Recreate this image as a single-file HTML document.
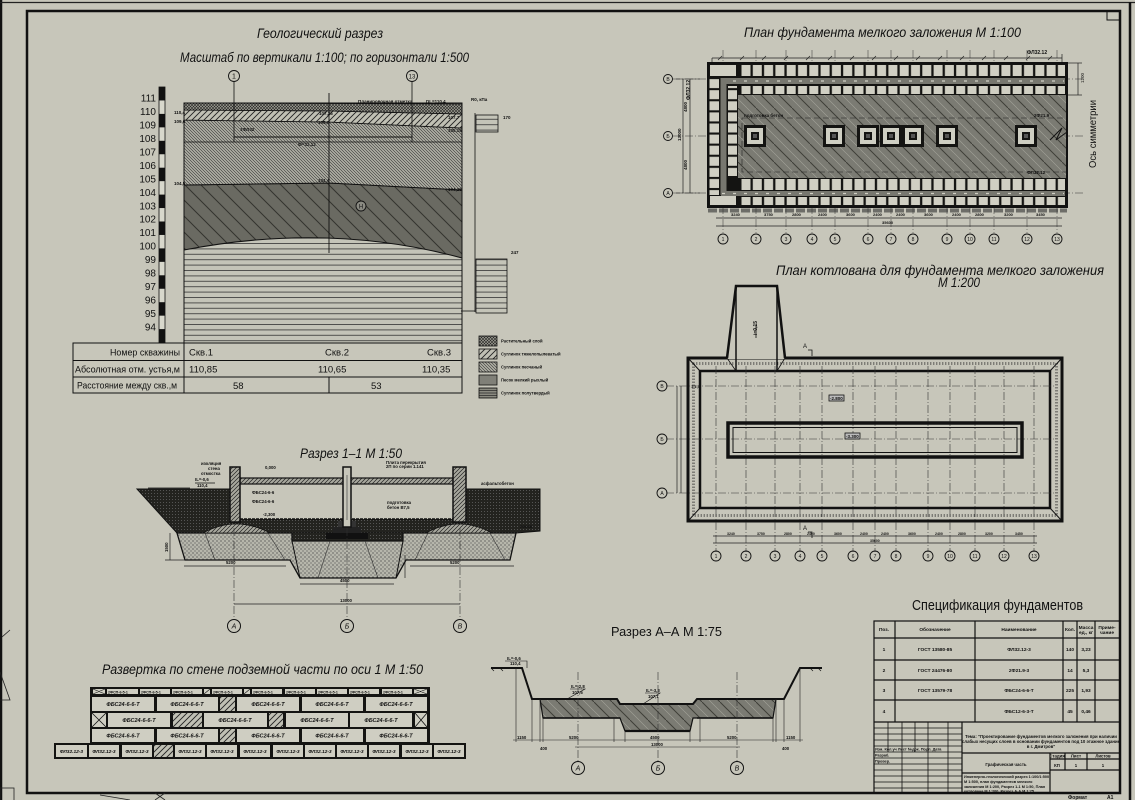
<!DOCTYPE html>
<html><head><meta charset="utf-8"><style>
html,body{margin:0;padding:0;background:#c7c6ba;width:1135px;height:800px;overflow:hidden}
svg{display:block}
text{font-family:"Liberation Sans",sans-serif;fill:#111}
.i{font-style:italic}
.b{font-weight:bold}
</style></head><body>
<svg width="1135" height="800" viewBox="0 0 1135 800" xmlns="http://www.w3.org/2000/svg">
<defs>
<pattern id="pCross" width="3" height="3" patternUnits="userSpaceOnUse"><rect width="3" height="3" fill="#9c9c92"/><path d="M0,0L3,3M0,3L3,0" stroke="#222" stroke-width="0.6"/></pattern>
<pattern id="pFwd" width="6" height="6" patternUnits="userSpaceOnUse"><rect width="6" height="6" fill="#c0c0b4"/><path d="M-1,7L7,-1M-1,1L1,-1M5,7L7,5" stroke="#222" stroke-width="0.9"/></pattern>
<pattern id="pBack" width="3" height="3" patternUnits="userSpaceOnUse"><rect width="3" height="3" fill="#b0b0a5"/><path d="M0,0L3,3M-1,2L1,4M2,-1L4,1" stroke="#333" stroke-width="0.6"/></pattern>
<pattern id="pDark" width="16" height="16" patternUnits="userSpaceOnUse"><rect width="16" height="16" fill="#6a6a62"/><path d="M0,0L16,16M-2,14L2,18M14,-2L18,2" stroke="#33332e" stroke-width="1"/></pattern>
<pattern id="pHor" width="10" height="5.4" patternUnits="userSpaceOnUse"><rect width="10" height="5.4" fill="#c4c4b8"/><line x1="0" y1="0.5" x2="10" y2="0.5" stroke="#333" stroke-width="0.8"/></pattern>
<pattern id="pHorD" width="10" height="2.5" patternUnits="userSpaceOnUse"><rect width="10" height="2.5" fill="#8a8a80"/><line x1="0" y1="0.5" x2="10" y2="0.5" stroke="#222" stroke-width="0.7"/></pattern>
<pattern id="pPlan" width="18" height="18" patternUnits="userSpaceOnUse"><rect width="18" height="18" fill="#7b7b73"/><path d="M0,0L18,18" stroke="#3e3e38" stroke-width="1"/><path d="M9,0L18,9M0,9L9,18" stroke="#a2a298" stroke-width="0.6"/></pattern>
<pattern id="pSand" width="4" height="4" patternUnits="userSpaceOnUse"><rect width="4" height="4" fill="#b6b6ab"/><circle cx="1" cy="1" r="0.6" fill="#333"/><circle cx="3" cy="3" r="0.6" fill="#555"/></pattern>
<pattern id="pEarth" width="3" height="3" patternUnits="userSpaceOnUse"><rect width="3" height="3" fill="#23231f"/><circle cx="1.5" cy="1.5" r="0.5" fill="#666"/></pattern>
<pattern id="pWall" width="4" height="4" patternUnits="userSpaceOnUse"><rect width="4" height="4" fill="#a8a89e"/><path d="M0,4L4,0M-1,1L1,-1M3,5L5,3" stroke="#222" stroke-width="0.7"/></pattern>
<pattern id="pSqH" x="740.3" y="0" width="11.3" height="400" patternUnits="userSpaceOnUse"><rect x="1.2" y="0" width="9" height="400" fill="#d0cfc3"/></pattern>
<pattern id="pSqV" x="0" y="78" width="400" height="11.1" patternUnits="userSpaceOnUse"><rect x="0" y="1.1" width="400" height="9" fill="#d0cfc3"/></pattern>
</defs>

<rect width="1135" height="800" fill="#c7c6ba"/>

<!-- frame -->
<line x1="1" y1="0" x2="1" y2="800" stroke="#111" stroke-width="2.5"/>
<line x1="0" y1="2.5" x2="1135" y2="2.5" stroke="#222" stroke-width="1.2"/>
<rect x="27" y="11" width="1093" height="782" fill="none" stroke="#111" stroke-width="2.5"/>
<line x1="1130" y1="2" x2="1130" y2="800" stroke="#111" stroke-width="2.5"/>
<rect x="1107" y="11" width="13" height="9" fill="none" stroke="#111" stroke-width="1"/>
<path d="M0,672 L10,700 L0,700" fill="none" stroke="#222" stroke-width="0.8"/>
<path d="M2,637 L10,630" stroke="#222" stroke-width="0.8"/>
<rect x="0" y="788" width="14" height="14" fill="none" stroke="#222" stroke-width="0.8"/>
<path d="M100,795 L130,800 M155,793 L165,800 M165,793 L155,800" stroke="#222" stroke-width="0.8"/>

<!-- ============ GEOLOGIC SECTION ============ -->
<text x="257" y="38" class="i" font-size="14" textLength="126" lengthAdjust="spacingAndGlyphs">Геологический разрез</text>
<text x="180" y="62" class="i" font-size="14" textLength="289" lengthAdjust="spacingAndGlyphs">Масштаб по вертикали 1:100; по горизонтали 1:500</text>
<circle cx="234" cy="76" r="5.5" fill="none" stroke="#111" stroke-width="0.9"/>
<text x="234" y="78.5" font-size="7" text-anchor="middle">1</text>
<circle cx="412" cy="76" r="5.5" fill="none" stroke="#111" stroke-width="0.9"/>
<text x="412" y="78.5" font-size="6" text-anchor="middle">13</text>

<!-- scale bar -->
<rect x="159" y="87" width="6" height="256" fill="#d8d8cc" stroke="#111" stroke-width="0.8"/>
<g fill="#111">
<rect x="159" y="87" width="6" height="13.45"/><rect x="159" y="113.9" width="6" height="13.45"/><rect x="159" y="140.8" width="6" height="13.45"/><rect x="159" y="167.7" width="6" height="13.45"/><rect x="159" y="194.6" width="6" height="13.45"/><rect x="159" y="221.5" width="6" height="13.45"/><rect x="159" y="248.4" width="6" height="13.45"/><rect x="159" y="275.3" width="6" height="13.45"/><rect x="159" y="302.2" width="6" height="13.45"/><rect x="159" y="329.1" width="6" height="13.9"/>
</g>
<g font-size="10" text-anchor="end">
<text x="156" y="101.5">111</text><text x="156" y="115">110</text><text x="156" y="128.5">109</text><text x="156" y="142">108</text><text x="156" y="155.4">107</text><text x="156" y="168.9">106</text><text x="156" y="182.3">105</text><text x="156" y="195.8">104</text><text x="156" y="209.3">103</text><text x="156" y="222.7">102</text><text x="156" y="236.2">101</text><text x="156" y="249.7">100</text><text x="156" y="263.1">99</text><text x="156" y="276.6">98</text><text x="156" y="290.1">97</text><text x="156" y="303.5">96</text><text x="156" y="317">95</text><text x="156" y="330.5">94</text>
</g>

<!-- layers -->
<rect x="184" y="103" width="278" height="240" fill="url(#pHor)"/>
<path d="M184,185 L329,183 L462,190 L462,258 Q329,222 184,250 Z" fill="url(#pDark)" stroke="#111" stroke-width="1"/>
<path d="M184,120 L329,122 L462,128 L462,190 L329,183 L184,185 Z" fill="url(#pBack)" stroke="#111" stroke-width="1"/>
<path d="M184,110 L329,111 L462,114 L462,128 L329,122 L184,120 Z" fill="url(#pFwd)" stroke="#111" stroke-width="0.8"/>
<path d="M184,103 L462,104 L462,114 L329,111 L184,110 Z" fill="url(#pCross)" stroke="#111" stroke-width="0.8"/>
<rect x="184" y="103" width="278" height="240" fill="none" stroke="#111" stroke-width="1"/>
<line x1="184" y1="142" x2="462" y2="142" stroke="#111" stroke-width="0.8"/>
<line x1="234" y1="137" x2="412" y2="137" stroke="#111" stroke-width="1"/>
<line x1="234" y1="82" x2="234" y2="142" stroke="#111" stroke-width="0.8"/>
<line x1="412" y1="82" x2="412" y2="142" stroke="#111" stroke-width="0.8"/>
<line x1="329" y1="93" x2="329" y2="253" stroke="#111" stroke-width="0.9"/>
<circle cx="361" cy="206" r="5" fill="#8a8a82" stroke="#111" stroke-width="0.9"/>
<text x="361" y="208.5" font-size="6" text-anchor="middle">H</text>
<g font-size="4.5" class="b">
<text x="174" y="114">110,4</text><text x="174" y="123">109,6</text><text x="174" y="185">104,5</text>
<text x="319" y="115">107,25</text><text x="318" y="124">105,6</text><text x="298" y="146">Ф=32,12</text>
<text x="240" y="131">1ФЛ32</text><text x="318" y="182">104,4</text>
<text x="448" y="119">107,7</text><text x="448" y="132">105,15</text><text x="448" y="191">104,25</text>
<text x="358" y="103">Планировочная отметка</text><text x="426" y="103">DL=110,4</text>
<text x="471" y="101">R0, кПа</text><text x="503" y="119">170</text><text x="511" y="254">247</text>
</g>
<line x1="475" y1="113" x2="475" y2="312" stroke="#111" stroke-width="0.8"/>
<rect x="476" y="115" width="22" height="17" fill="url(#pHor)" stroke="#111" stroke-width="0.8"/>
<rect x="476" y="259" width="31" height="54" fill="url(#pHor)" stroke="#111" stroke-width="0.8"/>
<line x1="461" y1="311" x2="475" y2="311" stroke="#111" stroke-width="0.8"/>

<!-- table -->
<rect x="73" y="343" width="389" height="50" fill="none" stroke="#111" stroke-width="1"/>
<line x1="73" y1="360.5" x2="462" y2="360.5" stroke="#111" stroke-width="1"/>
<line x1="73" y1="377" x2="462" y2="377" stroke="#111" stroke-width="1"/>
<line x1="184" y1="343" x2="184" y2="393" stroke="#111" stroke-width="1"/>
<line x1="329" y1="377" x2="329" y2="393" stroke="#111" stroke-width="1"/>
<g font-size="9.5">
<text x="110" y="355.5" textLength="70" lengthAdjust="spacingAndGlyphs">Номер скважины</text>
<text x="75" y="372.5" textLength="105" lengthAdjust="spacingAndGlyphs">Абсолютная отм. устья,м</text>
<text x="77" y="388.5" textLength="100" lengthAdjust="spacingAndGlyphs">Расстояние между скв.,м</text>
<text x="189" y="355.5">Скв.1</text><text x="325" y="355.5">Скв.2</text><text x="427" y="355.5">Скв.3</text>
<text x="189" y="372.5">110,85</text><text x="318" y="372.5">110,65</text><text x="422" y="372.5">110,35</text>
<text x="233" y="389">58</text><text x="371" y="389">53</text>
</g>
<!-- legend -->
<rect x="479" y="336" width="18" height="10" fill="url(#pCross)" stroke="#111" stroke-width="0.8"/>
<rect x="479" y="349" width="18" height="10" fill="url(#pFwd)" stroke="#111" stroke-width="0.8"/>
<rect x="479" y="362" width="18" height="10" fill="url(#pBack)" stroke="#111" stroke-width="0.8"/>
<rect x="479" y="375" width="18" height="10" fill="#808078" stroke="#111" stroke-width="0.8"/>
<rect x="479" y="388" width="18" height="10" fill="url(#pHorD)" stroke="#111" stroke-width="0.8"/>
<g font-size="4.2" class="b">
<text x="501" y="342.5">Растительный слой</text>
<text x="501" y="355.5">Суглинок тяжелопылеватый</text>
<text x="501" y="368.5">Суглинок песчаный</text>
<text x="501" y="381.5">Песок мелкий рыхлый</text>
<text x="501" y="394.5">Суглинок полутвердый</text>
</g>

<!-- ============ PLAN FUNDAMENTA ============ -->
<text x="744" y="37" class="i" font-size="14" textLength="277" lengthAdjust="spacingAndGlyphs">План фундамента мелкого заложения М 1:100</text>
<g stroke="#333" stroke-width="0.5" stroke-dasharray="8 2 1 2">
<line x1="723" y1="50" x2="723" y2="233"/><line x1="756" y1="50" x2="756" y2="233"/><line x1="786" y1="50" x2="786" y2="233"/><line x1="812" y1="50" x2="812" y2="233"/><line x1="835" y1="50" x2="835" y2="233"/><line x1="868" y1="50" x2="868" y2="233"/><line x1="891" y1="50" x2="891" y2="233"/><line x1="913" y1="50" x2="913" y2="233"/><line x1="947" y1="50" x2="947" y2="233"/><line x1="970" y1="50" x2="970" y2="233"/><line x1="994" y1="50" x2="994" y2="233"/><line x1="1027" y1="50" x2="1027" y2="233"/><line x1="1057" y1="50" x2="1057" y2="233"/>
<line x1="672" y1="79" x2="1085" y2="79"/><line x1="672" y1="136" x2="1085" y2="136"/><line x1="672" y1="193" x2="1085" y2="193"/>
</g>
<line x1="712" y1="58" x2="1062" y2="58" stroke="#222" stroke-width="0.7"/>
<line x1="712" y1="58" x2="712" y2="63" stroke="#222" stroke-width="0.7"/>
<line x1="1062" y1="54" x2="1062" y2="63" stroke="#222" stroke-width="0.7"/>
<path d="M718,60 l4,-4 M740,60 l4,-4 M762,60 l4,-4 M784,60 l4,-4 M806,60 l4,-4 M828,60 l4,-4 M850,60 l4,-4 M872,60 l4,-4 M894,60 l4,-4 M916,60 l4,-4 M938,60 l4,-4 M960,60 l4,-4 M982,60 l4,-4 M1004,60 l4,-4 M1026,60 l4,-4 M1048,60 l4,-4" stroke="#222" stroke-width="0.7"/>
<text x="1027" y="54" font-size="5" class="b">ФЛ32.12</text>
<line x1="1078" y1="63" x2="1078" y2="95" stroke="#222" stroke-width="0.7"/>
<line x1="1067" y1="63" x2="1082" y2="63" stroke="#222" stroke-width="0.7"/>
<line x1="1067" y1="95" x2="1082" y2="95" stroke="#222" stroke-width="0.7"/>
<text x="1084" y="83" font-size="4.5" transform="rotate(-90 1084 83)">1200</text>

<rect x="708" y="63" width="359" height="32" fill="#141412"/>
<rect x="708" y="63" width="30" height="144" fill="#141412"/>
<rect x="708" y="178" width="359" height="29" fill="#141412"/>
<rect x="738" y="95" width="329" height="83" fill="url(#pPlan)"/>
<rect x="742" y="118" width="325" height="54" fill="none" stroke="#222" stroke-width="0.6" stroke-dasharray="6 3"/>
<rect x="710" y="65" width="26" height="11" fill="#d0cfc3"/>
<rect x="740" y="65" width="325" height="11" fill="url(#pSqH)"/>
<rect x="721" y="78" width="344" height="6" fill="#77776f"/>
<line x1="722" y1="81" x2="1064" y2="81" stroke="#d0cfc3" stroke-width="1.2" stroke-dasharray="3 8"/>
<rect x="740" y="86" width="325" height="8" fill="url(#pSqH)"/>
<rect x="709.5" y="78" width="9.5" height="117" fill="url(#pSqV)"/>
<rect x="728" y="86" width="9" height="90" fill="url(#pSqV)"/>
<rect x="720.5" y="78" width="6" height="117" fill="#77776f"/>
<rect x="740" y="179" width="325" height="11" fill="url(#pSqH)"/>
<rect x="721" y="191" width="344" height="5" fill="#77776f"/>
<line x1="722" y1="193.5" x2="1064" y2="193.5" stroke="#d0cfc3" stroke-width="1.2" stroke-dasharray="3 8"/>
<rect x="740" y="197" width="325" height="8" fill="url(#pSqH)"/>
<rect x="710" y="196" width="26" height="9" fill="#d0cfc3"/>
<rect x="708" y="63" width="359" height="144" fill="none" stroke="#111" stroke-width="2"/>
<text x="744" y="117" font-size="4.5" class="b">подготовка бетон</text>
<text x="1034" y="117" font-size="4.5" class="b">2Ф21.9</text>
<text x="1027" y="174" font-size="4.5" class="b">ФЛ32.12</text>
<text x="690" y="100" font-size="5" class="b" transform="rotate(-90 690 100)">ФЛ32.12</text>
<g>
<rect x="744" y="125" width="22" height="22" fill="#141412"/><rect x="747" y="128" width="16" height="16" fill="#cfcfc3"/><rect x="751" y="132" width="8" height="8" fill="#141412"/><rect x="753" y="134" width="4" height="4" fill="#555"/>
<rect x="823" y="125" width="22" height="22" fill="#141412"/><rect x="826" y="128" width="16" height="16" fill="#cfcfc3"/><rect x="830" y="132" width="8" height="8" fill="#141412"/><rect x="832" y="134" width="4" height="4" fill="#555"/>
<rect x="857" y="125" width="22" height="22" fill="#141412"/><rect x="860" y="128" width="16" height="16" fill="#cfcfc3"/><rect x="864" y="132" width="8" height="8" fill="#141412"/><rect x="866" y="134" width="4" height="4" fill="#555"/>
<rect x="880" y="125" width="22" height="22" fill="#141412"/><rect x="883" y="128" width="16" height="16" fill="#cfcfc3"/><rect x="887" y="132" width="8" height="8" fill="#141412"/><rect x="889" y="134" width="4" height="4" fill="#555"/>
<rect x="902" y="125" width="22" height="22" fill="#141412"/><rect x="905" y="128" width="16" height="16" fill="#cfcfc3"/><rect x="909" y="132" width="8" height="8" fill="#141412"/><rect x="911" y="134" width="4" height="4" fill="#555"/>
<rect x="936" y="125" width="22" height="22" fill="#141412"/><rect x="939" y="128" width="16" height="16" fill="#cfcfc3"/><rect x="943" y="132" width="8" height="8" fill="#141412"/><rect x="945" y="134" width="4" height="4" fill="#555"/>
<rect x="1015" y="125" width="22" height="22" fill="#141412"/><rect x="1018" y="128" width="16" height="16" fill="#cfcfc3"/><rect x="1022" y="132" width="8" height="8" fill="#141412"/><rect x="1024" y="134" width="4" height="4" fill="#555"/>
</g>
<path d="M1050,140 L1062,128 L1056,140 L1067,132" fill="none" stroke="#111" stroke-width="1"/>
<text x="1096" y="168" font-size="10" transform="rotate(-90 1096 168)" textLength="68" lengthAdjust="spacingAndGlyphs">Ось симметрии</text>
<line x1="683" y1="79" x2="683" y2="193" stroke="#222" stroke-width="0.7"/>
<line x1="690" y1="79" x2="690" y2="193" stroke="#222" stroke-width="0.7"/>
<line x1="676" y1="79" x2="700" y2="79" stroke="#222" stroke-width="0.6"/>
<line x1="676" y1="193" x2="700" y2="193" stroke="#222" stroke-width="0.6"/>
<g font-size="4.5" class="b">
<text x="687" y="112" transform="rotate(-90 687 112)">4800</text>
<text x="681" y="141" transform="rotate(-90 681 141)">13000</text>
<text x="687" y="170" transform="rotate(-90 687 170)">4800</text>
</g>
<g fill="none" stroke="#111" stroke-width="0.9">
<circle cx="668" cy="79" r="4.5"/><circle cx="668" cy="136" r="4.5"/><circle cx="668" cy="193" r="4.5"/>
</g>
<g font-size="5" text-anchor="middle"><text x="668" y="81">В</text><text x="668" y="138">Б</text><text x="668" y="195">А</text></g>
<line x1="708" y1="210.5" x2="1067" y2="210.5" stroke="#333" stroke-width="4" stroke-dasharray="9 2" opacity="0.6"/>
<line x1="716" y1="218" x2="1062" y2="218" stroke="#222" stroke-width="0.7"/>
<line x1="716" y1="226" x2="1062" y2="226" stroke="#222" stroke-width="0.7"/>
<g font-size="4" class="b">
<text x="731" y="216">3240</text><text x="764" y="216">3750</text><text x="792" y="216">2800</text><text x="818" y="216">2400</text><text x="846" y="216">3600</text><text x="873" y="216">2400</text><text x="896" y="216">2400</text><text x="924" y="216">3600</text><text x="952" y="216">2400</text><text x="975" y="216">2800</text><text x="1004" y="216">3200</text><text x="1036" y="216">3450</text>
<text x="882" y="224">35600</text>
</g>
<g fill="none" stroke="#111" stroke-width="0.9">
<circle cx="723" cy="239" r="5"/><circle cx="756" cy="239" r="5"/><circle cx="786" cy="239" r="5"/><circle cx="812" cy="239" r="5"/><circle cx="835" cy="239" r="5"/><circle cx="868" cy="239" r="5"/><circle cx="891" cy="239" r="5"/><circle cx="913" cy="239" r="5"/><circle cx="947" cy="239" r="5"/><circle cx="970" cy="239" r="5"/><circle cx="994" cy="239" r="5"/><circle cx="1027" cy="239" r="5"/><circle cx="1057" cy="239" r="5"/>
</g>
<g font-size="5" text-anchor="middle">
<text x="723" y="241">1</text><text x="756" y="241">2</text><text x="786" y="241">3</text><text x="812" y="241">4</text><text x="835" y="241">5</text><text x="868" y="241">6</text><text x="891" y="241">7</text><text x="913" y="241">8</text><text x="947" y="241">9</text><text x="970" y="241">10</text><text x="994" y="241">11</text><text x="1027" y="241">12</text><text x="1057" y="241">13</text>
</g>

<!-- ============ PLAN KOTLOVANA ============ -->
<text x="776" y="275" class="i" font-size="14" textLength="328" lengthAdjust="spacingAndGlyphs">План котлована для фундамента мелкого заложения</text>
<text x="938" y="287" class="i" font-size="14" textLength="42" lengthAdjust="spacingAndGlyphs">М 1:200</text>
<rect x="688" y="358" width="374" height="163" fill="none" stroke="#111" stroke-width="3"/>
<rect x="693.5" y="363.5" width="363" height="152" fill="none" stroke="#333" stroke-width="3" stroke-dasharray="0.7 2.3"/>
<rect x="700" y="371" width="350" height="137" fill="#c7c6ba" stroke="#111" stroke-width="2.5"/>
<path d="M688,358 L700,371 M1062,358 L1050,371 M688,521 L700,508 M1062,521 L1050,508" stroke="#111" stroke-width="1"/>
<path d="M727,359 L736,286 L777,286 L785,359 Z" fill="#c7c6ba" stroke="none"/>
<path d="M727,358 L736,286 L777,286 L785,358" fill="none" stroke="#111" stroke-width="2.5"/>
<line x1="736" y1="286" x2="736" y2="371" stroke="#111" stroke-width="1.5"/>
<line x1="777" y1="286" x2="777" y2="371" stroke="#111" stroke-width="1.5"/>
<path d="M727,358 L736,371 M785,358 L777,371" stroke="#111" stroke-width="0.8"/>
<text x="757" y="335" font-size="5" class="b" transform="rotate(-90 757 335)">i=0,15</text>
<line x1="756" y1="325" x2="756" y2="338" stroke="#111" stroke-width="0.8"/>
<g stroke="#333" stroke-width="0.6" stroke-dasharray="8 2 1 2">
<line x1="716" y1="366" x2="716" y2="552"/><line x1="746" y1="366" x2="746" y2="552"/><line x1="775" y1="366" x2="775" y2="552"/><line x1="800" y1="366" x2="800" y2="552"/><line x1="822" y1="366" x2="822" y2="552"/><line x1="853" y1="366" x2="853" y2="552"/><line x1="875" y1="366" x2="875" y2="552"/><line x1="896" y1="366" x2="896" y2="552"/><line x1="928" y1="366" x2="928" y2="552"/><line x1="950" y1="366" x2="950" y2="552"/><line x1="975" y1="366" x2="975" y2="552"/><line x1="1004" y1="366" x2="1004" y2="552"/><line x1="1034" y1="366" x2="1034" y2="552"/>
<line x1="666" y1="386" x2="1055" y2="386"/><line x1="666" y1="439" x2="1055" y2="439"/><line x1="666" y1="493" x2="1055" y2="493"/>
</g>
<rect x="728" y="423" width="294" height="34" fill="none" stroke="#111" stroke-width="3.5"/>
<rect x="733" y="427.5" width="284" height="25" fill="none" stroke="#111" stroke-width="1"/>
<rect x="829" y="395" width="15" height="6" fill="#bbb" stroke="#111" stroke-width="0.8"/>
<text x="830" y="400" font-size="4.5" class="b">-2.800</text>
<rect x="845" y="433" width="15" height="6" fill="#bbb" stroke="#111" stroke-width="0.8"/>
<text x="846" y="438" font-size="4.5" class="b">-3.300</text>
<text x="803" y="348" font-size="6">А</text><path d="M808,350 L812,350 L812,356" fill="none" stroke="#111" stroke-width="0.8"/>
<text x="803" y="530" font-size="6">А</text><path d="M808,532 L812,532 L812,538" fill="none" stroke="#111" stroke-width="0.8"/>
<text x="691" y="388" font-size="4" class="b">1:1,5</text>
<line x1="677" y1="386" x2="677" y2="493" stroke="#222" stroke-width="0.7"/>
<line x1="681" y1="386" x2="681" y2="493" stroke="#222" stroke-width="0.7"/>
<line x1="713" y1="536" x2="1037" y2="536" stroke="#222" stroke-width="0.7"/>
<line x1="713" y1="543" x2="1037" y2="543" stroke="#222" stroke-width="0.7"/>
<g font-size="3.5" class="b">
<text x="727" y="535">3240</text><text x="757" y="535">3750</text><text x="784" y="535">2800</text><text x="807" y="535">2400</text><text x="834" y="535">3600</text><text x="860" y="535">2400</text><text x="881" y="535">2400</text><text x="908" y="535">3600</text><text x="935" y="535">2400</text><text x="958" y="535">2800</text><text x="985" y="535">3200</text><text x="1015" y="535">3450</text>
<text x="870" y="542">35600</text>
</g>
<g fill="none" stroke="#111" stroke-width="0.9">
<circle cx="716" cy="556" r="5"/><circle cx="746" cy="556" r="5"/><circle cx="775" cy="556" r="5"/><circle cx="800" cy="556" r="5"/><circle cx="822" cy="556" r="5"/><circle cx="853" cy="556" r="5"/><circle cx="875" cy="556" r="5"/><circle cx="896" cy="556" r="5"/><circle cx="928" cy="556" r="5"/><circle cx="950" cy="556" r="5"/><circle cx="975" cy="556" r="5"/><circle cx="1004" cy="556" r="5"/><circle cx="1034" cy="556" r="5"/>
<circle cx="662" cy="386" r="5"/><circle cx="662" cy="439" r="5"/><circle cx="662" cy="493" r="5"/>
</g>
<g font-size="5" text-anchor="middle">
<text x="716" y="558">1</text><text x="746" y="558">2</text><text x="775" y="558">3</text><text x="800" y="558">4</text><text x="822" y="558">5</text><text x="853" y="558">6</text><text x="875" y="558">7</text><text x="896" y="558">8</text><text x="928" y="558">9</text><text x="950" y="558">10</text><text x="975" y="558">11</text><text x="1004" y="558">12</text><text x="1034" y="558">13</text>
<text x="662" y="388">В</text><text x="662" y="441">Б</text><text x="662" y="495">А</text>
</g>

<!-- ============ RAZREZ 1-1 ============ -->
<text x="300" y="458" class="i" font-size="14" textLength="102" lengthAdjust="spacingAndGlyphs">Разрез 1–1 М 1:50</text>
<path d="M137,489 L540,489 L540,531 L516,533 L177,533 Z" fill="url(#pEarth)" stroke="#111" stroke-width="1"/>
<path d="M240,484 L453,484 L453,519 L240,519 Z" fill="#c7c6ba"/>
<line x1="240" y1="519" x2="453" y2="519" stroke="#111" stroke-width="1.5" stroke-dasharray="3 1"/>
<rect x="292" y="533" width="111" height="8" fill="url(#pEarth)"/>
<path d="M177,533 L292,533 L292,541 L403,541 L403,533 L516,533 L510,560 L406,560 L396,578 L300,578 L290,560 L185,560 Z" fill="url(#pSand)" stroke="#111" stroke-width="1.3"/>
<path d="M292,541 L300,578 M403,541 L396,578" stroke="#111" stroke-width="1"/>
<path d="M205,533 L215,560 M268,533 L285,560 M428,533 L415,560 M490,533 L505,560 M330,541 L318,578 M365,541 L378,578" stroke="#333" stroke-width="0.6"/>
<path d="M203,533 Q236,515 270,533 Z" fill="url(#pWall)" stroke="#111" stroke-width="0.8"/>
<path d="M426,533 Q459,515 492,533 Z" fill="url(#pWall)" stroke="#111" stroke-width="0.8"/>
<rect x="326" y="533" width="42" height="6" fill="#111"/>
<rect x="333" y="527" width="28" height="6" fill="#222"/>
<rect x="338" y="521" width="18" height="6" fill="#333"/>
<rect x="240" y="478" width="213" height="6" fill="url(#pWall)" stroke="#111" stroke-width="1.2"/>
<rect x="230" y="467" width="10" height="55" fill="url(#pWall)" stroke="#111" stroke-width="1.5"/>
<rect x="453" y="467" width="13" height="55" fill="url(#pWall)" stroke="#111" stroke-width="1.5"/>
<rect x="343" y="467" width="8" height="60" fill="#c7c6ba" stroke="#111" stroke-width="1.5"/>
<line x1="347" y1="475" x2="347" y2="520" stroke="#333" stroke-width="0.6"/>
<g font-size="4.3" class="b">
<text x="195" y="481">IL=-0,6</text><text x="197" y="487">110,4</text>
<text x="201" y="465">изоляция</text><text x="208" y="470">стена</text><text x="201" y="475">отмостка</text>
<text x="265" y="469">0,000</text><text x="252" y="494">ФБС24-6-6</text><text x="252" y="503">ФБС24-6-6</text><text x="263" y="516">-2,300</text>
<text x="386" y="464">Плита перекрытия</text><text x="386" y="468">2П по серии 1.141</text>
<text x="387" y="504">подготовка</text><text x="387" y="509">бетон B7,5</text>
<text x="481" y="485">асфальтобетон</text><text x="520" y="528">песок</text>
<text x="226" y="564">5200</text><text x="450" y="564">5200</text><text x="340" y="582">4500</text><text x="340" y="602">13000</text>
</g>
<path d="M148,488 L190,488 M195,483 L215,483" stroke="#111" stroke-width="0.7"/>
<g stroke="#222" stroke-width="0.7">
<line x1="184" y1="566" x2="286" y2="566"/><line x1="410" y1="566" x2="514" y2="566"/>
<line x1="300" y1="584" x2="394" y2="584"/><line x1="234" y1="604" x2="460" y2="604"/>
<line x1="170" y1="533" x2="170" y2="560"/><line x1="165" y1="560" x2="185" y2="560"/>
<line x1="405" y1="555" x2="405" y2="578"/>
</g>
<text x="168" y="552" font-size="4.3" class="b" transform="rotate(-90 168 552)">1500</text>
<g stroke="#333" stroke-width="0.6" stroke-dasharray="8 2 1 2">
<line x1="234" y1="528" x2="234" y2="619"/><line x1="347" y1="528" x2="347" y2="619"/><line x1="460" y1="528" x2="460" y2="619"/>
</g>
<g fill="none" stroke="#111" stroke-width="1"><circle cx="234" cy="626" r="6.5"/><circle cx="347" cy="626" r="6.5"/><circle cx="460" cy="626" r="6.5"/></g>
<g font-size="7" class="i" text-anchor="middle"><text x="234" y="628.5">А</text><text x="347" y="628.5">Б</text><text x="460" y="628.5">В</text></g>

<!-- ============ RAZVERTKA ============ -->
<text x="102" y="674" class="i" font-size="14" textLength="321" lengthAdjust="spacingAndGlyphs">Развертка по стене подземной части по оси 1 М 1:50</text>
<rect x="90" y="687" width="340" height="58" fill="#141412"/>
<rect x="54" y="743" width="412" height="16" fill="#141412"/>
<g fill="#cfcec2">
<rect x="107" y="689" width="31" height="5"/><rect x="140" y="689" width="30" height="5"/><rect x="172" y="689" width="30" height="5"/><rect x="212" y="689" width="30" height="5"/><rect x="252" y="689" width="30" height="5"/><rect x="285" y="689" width="30" height="5"/><rect x="317" y="689" width="30" height="5"/><rect x="349" y="689" width="30" height="5"/><rect x="382" y="689" width="30" height="5"/>
<rect x="93" y="689" width="12" height="5"/><rect x="204" y="689" width="6" height="5"/><rect x="244" y="689" width="6" height="5"/><rect x="414" y="689" width="13" height="5"/>
</g>
<path d="M93,689 L105,694 M93,694 L105,689 M414,689 L427,694 M414,694 L427,689 M204,694 L210,689 M244,694 L250,689" stroke="#111" stroke-width="0.6"/>
<g font-size="3.6" class="b">
<text x="108" y="693.5">2ФСП-6-5-1</text><text x="141" y="693.5">2ФСП-6-5-1</text><text x="173" y="693.5">2ФСП-6-5-1</text><text x="213" y="693.5">2ФСП-6-5-1</text><text x="253" y="693.5">2ФСП-6-5-1</text><text x="286" y="693.5">2ФСП-6-5-1</text><text x="318" y="693.5">2ФСП-6-5-1</text><text x="350" y="693.5">2ФСП-6-5-1</text><text x="383" y="693.5">2ФСП-6-5-1</text>
</g>
<g fill="#cfcec2">
<rect x="92" y="697" width="62" height="14"/><rect x="157" y="697" width="61" height="14"/><rect x="237" y="697" width="62" height="14"/><rect x="302" y="697" width="61" height="14"/><rect x="366" y="697" width="61" height="14"/>
<rect x="108" y="713" width="62" height="14"/><rect x="204" y="713" width="63" height="14"/><rect x="286" y="713" width="62" height="14"/><rect x="350" y="713" width="62" height="14"/><rect x="92" y="713" width="14" height="14"/><rect x="415" y="713" width="12" height="14"/>
<rect x="92" y="729" width="62" height="13"/><rect x="157" y="729" width="61" height="13"/><rect x="237" y="729" width="62" height="13"/><rect x="302" y="729" width="61" height="13"/><rect x="366" y="729" width="61" height="13"/>
<rect x="56" y="745" width="31" height="12"/><rect x="89" y="745" width="30" height="12"/><rect x="122" y="745" width="30" height="12"/><rect x="175" y="745" width="30" height="12"/><rect x="207" y="745" width="30" height="12"/><rect x="240" y="745" width="30" height="12"/><rect x="273" y="745" width="30" height="12"/><rect x="305" y="745" width="30" height="12"/><rect x="337" y="745" width="30" height="12"/><rect x="369" y="745" width="30" height="12"/><rect x="402" y="745" width="30" height="12"/><rect x="434" y="745" width="30" height="12"/>
</g>
<g fill="url(#pFwd)">
<rect x="220" y="697" width="15" height="14"/><rect x="173" y="713" width="29" height="14"/><rect x="269" y="713" width="14" height="14"/><rect x="220" y="729" width="15" height="13"/><rect x="154" y="745" width="19" height="12"/>
</g>
<path d="M92,713 L106,727 M92,727 L106,713 M415,713 L427,727 M415,727 L427,713" stroke="#111" stroke-width="0.8"/>
<g font-size="5.5" class="i b" text-anchor="middle">
<text x="123" y="706">ФБС24-6-6-Т</text><text x="187" y="706">ФБС24-6-6-Т</text><text x="268" y="706">ФБС24-6-6-Т</text><text x="332" y="706">ФБС24-6-6-Т</text><text x="396" y="706">ФБС24-6-6-Т</text>
<text x="139" y="722">ФБС24-6-6-Т</text><text x="235" y="722">ФБС24-6-6-Т</text><text x="317" y="722">ФБС24-6-6-Т</text><text x="381" y="722">ФБС24-6-6-Т</text>
<text x="123" y="737.5">ФБС24-6-6-Т</text><text x="187" y="737.5">ФБС24-6-6-Т</text><text x="268" y="737.5">ФБС24-6-6-Т</text><text x="332" y="737.5">ФБС24-6-6-Т</text><text x="396" y="737.5">ФБС24-6-6-Т</text>
</g>
<g font-size="4.8" class="i b" text-anchor="middle">
<text x="71.5" y="753">ФЛ32.12-3</text><text x="104" y="753">ФЛ32.12-3</text><text x="137" y="753">ФЛ32.12-3</text><text x="190" y="753">ФЛ32.12-3</text><text x="222" y="753">ФЛ32.12-3</text><text x="255" y="753">ФЛ32.12-3</text><text x="288" y="753">ФЛ32.12-3</text><text x="320" y="753">ФЛ32.12-3</text><text x="352" y="753">ФЛ32.12-3</text><text x="384" y="753">ФЛ32.12-3</text><text x="417" y="753">ФЛ32.12-3</text><text x="449" y="753">ФЛ32.12-3</text>
</g>

<!-- ============ RAZREZ A-A ============ -->
<text x="611" y="636" font-size="13" textLength="111" lengthAdjust="spacingAndGlyphs">Разрез А–А М 1:75</text>
<path d="M540,699 L617,699 L620,704 L693,704 L697,699 L776,699 L773,718 L693,718 L690,731 L625,731 L620,718 L543,718 Z" fill="url(#pPlan)" stroke="#111" stroke-width="1.2"/>
<path d="M491,668 L522,668 L532,699 L617,699 L620,704 L693,704 L697,699 L784,699 L800,668 L822,668" fill="none" stroke="#111" stroke-width="2"/>
<path d="M625,731 L690,731" stroke="#111" stroke-width="2.2"/>
<path d="M543,718 L620,718 M697,718 L773,718" stroke="#111" stroke-width="1.5"/>
<path d="M491,668 l3,3 M500,668 l3,3 M810,668 l3,3 M818,668 l3,3" stroke="#111" stroke-width="0.7"/>
<g stroke="#222" stroke-width="0.6">
<line x1="516" y1="668" x2="516" y2="742"/><line x1="532" y1="699" x2="532" y2="742"/><line x1="540" y1="699" x2="540" y2="742"/><line x1="543" y1="718" x2="543" y2="742"/>
<line x1="614" y1="718" x2="614" y2="742"/><line x1="625" y1="731" x2="625" y2="742"/><line x1="690" y1="731" x2="690" y2="742"/><line x1="700" y1="718" x2="700" y2="742"/>
<line x1="773" y1="718" x2="773" y2="742"/><line x1="776" y1="699" x2="776" y2="742"/><line x1="784" y1="699" x2="784" y2="742"/><line x1="800" y1="668" x2="800" y2="742"/>
<line x1="513" y1="740" x2="803" y2="740"/><line x1="575" y1="747" x2="740" y2="747"/>
</g>
<g font-size="4.3" class="b">
<text x="517" y="739">1150</text><text x="569" y="739">5200</text><text x="650" y="739">4500</text><text x="727" y="739">5200</text><text x="786" y="739">1150</text>
<text x="540" y="750">400</text><text x="782" y="750">400</text><text x="651" y="746">13000</text>
<text x="507" y="660">IL=-0,6</text><text x="510" y="665">110,4</text>
<text x="571" y="688">IL=-2,8</text><text x="572" y="694">107,6</text>
<text x="646" y="692">IL=-3,3</text><text x="648" y="698">107,1</text>
</g>
<path d="M505,661 L527,661 L527,668 M570,689 L585,689 L567,699 M645,693 L660,693 L643,704" fill="none" stroke="#111" stroke-width="0.6"/>
<g stroke="#333" stroke-width="0.6" stroke-dasharray="8 2 1 2">
<line x1="578" y1="672" x2="578" y2="761"/><line x1="658" y1="672" x2="658" y2="761"/><line x1="737" y1="672" x2="737" y2="761"/>
</g>
<g fill="none" stroke="#111" stroke-width="1"><circle cx="578" cy="768" r="6.5"/><circle cx="658" cy="768" r="6.5"/><circle cx="737" cy="768" r="6.5"/></g>
<g font-size="7" class="i" text-anchor="middle"><text x="578" y="770.5">А</text><text x="658" y="770.5">Б</text><text x="737" y="770.5">В</text></g>

<!-- ============ SPECIFICATION ============ -->
<text x="912" y="610" font-size="15" textLength="171" lengthAdjust="spacingAndGlyphs">Спецификация фундаментов</text>
<g stroke="#111" stroke-width="1.2" fill="none">
<rect x="874" y="621" width="246" height="172"/>
<line x1="874" y1="638" x2="1120" y2="638"/><line x1="874" y1="660" x2="1120" y2="660"/><line x1="874" y1="680" x2="1120" y2="680"/><line x1="874" y1="700" x2="1120" y2="700"/><line x1="874" y1="722" x2="1120" y2="722"/>
<line x1="895" y1="621" x2="895" y2="722"/><line x1="975" y1="621" x2="975" y2="722"/><line x1="1063" y1="621" x2="1063" y2="722"/><line x1="1077" y1="621" x2="1077" y2="722"/><line x1="1095" y1="621" x2="1095" y2="722"/>
<line x1="962" y1="722" x2="962" y2="793"/>
<line x1="962" y1="753" x2="1120" y2="753"/><line x1="962" y1="773" x2="1050" y2="773"/>
<line x1="1050" y1="753" x2="1050" y2="793"/><line x1="1065" y1="753" x2="1065" y2="770"/><line x1="1087" y1="753" x2="1087" y2="770"/>
<line x1="1050" y1="759" x2="1120" y2="759"/><line x1="1050" y1="770" x2="1120" y2="770"/>
</g>
<g stroke="#111" stroke-width="0.8">
<line x1="888" y1="722" x2="888" y2="752"/><line x1="902" y1="722" x2="902" y2="793"/><line x1="915" y1="722" x2="915" y2="752"/><line x1="928" y1="722" x2="928" y2="793"/><line x1="948" y1="722" x2="948" y2="793"/>
<line x1="874" y1="728" x2="962" y2="728"/><line x1="874" y1="734" x2="962" y2="734"/><line x1="874" y1="740" x2="962" y2="740"/><line x1="874" y1="746" x2="962" y2="746"/><line x1="874" y1="752" x2="962" y2="752"/>
<line x1="874" y1="758" x2="962" y2="758"/><line x1="874" y1="764" x2="962" y2="764"/><line x1="874" y1="770" x2="962" y2="770"/><line x1="874" y1="776" x2="962" y2="776"/><line x1="874" y1="782" x2="962" y2="782"/><line x1="874" y1="788" x2="962" y2="788"/>
</g>
<g font-size="4.8" class="b" text-anchor="middle">
<text x="884" y="631">Поз.</text><text x="935" y="631">Обозначение</text><text x="1019" y="631">Наименование</text><text x="1070" y="631">Кол.</text><text x="1086" y="629">Масса</text><text x="1086" y="634">ед., кг</text><text x="1107" y="629">Приме-</text><text x="1107" y="634">чание</text>
<text x="884" y="651">1</text><text x="935" y="651">ГОСТ 13580-85</text><text x="1019" y="651">ФЛ32.12-3</text><text x="1070" y="651">140</text><text x="1086" y="651">3,23</text>
<text x="884" y="672">2</text><text x="935" y="672">ГОСТ 24476-80</text><text x="1019" y="672">2Ф21.9-3</text><text x="1070" y="672">14</text><text x="1086" y="672">5,3</text>
<text x="884" y="692">3</text><text x="935" y="692">ГОСТ 13579-78</text><text x="1019" y="692">ФБС24-6-6-Т</text><text x="1070" y="692">225</text><text x="1086" y="692">1,93</text>
<text x="884" y="713">4</text><text x="1019" y="713">ФБС12-6-3-Т</text><text x="1070" y="713">45</text><text x="1086" y="713">0,46</text>
</g>
<g font-size="3.8" class="b">
<text x="875" y="750.5">Изм. Кол.уч Лист №док. Подп. Дата</text>
<text x="875" y="756.5">Разраб.</text><text x="875" y="762.5">Провер.</text>
</g>
<g font-size="4.3" class="b" text-anchor="middle">
<text x="1041" y="738">Тема: "Проектирование фундаментов мелкого заложения при наличии</text>
<text x="1041" y="743">слабых несущих слоев в основании фундаментов под 10 этажное здание</text>
<text x="1041" y="748">в г. Дмитров"</text>
<text x="1006" y="766">Графическая часть</text>
<text x="1057" y="757.5">Стадия</text><text x="1076" y="757.5">Лист</text><text x="1103" y="757.5">Листов</text>
<text x="1057" y="767">КП</text><text x="1076" y="767">1</text><text x="1103" y="767">1</text>
</g>
<g font-size="3.8" class="b">
<text x="964" y="778">Инженерно-геологический разрез 1:100/1:500</text>
<text x="964" y="783">М 1:500, план фундаментов мелкого</text>
<text x="964" y="788">заложения М 1:200, Разрез 1-1 М 1:50, План</text>
<text x="964" y="792.5">котлована М 1:200, Разрез А-А М 1:75</text>
</g>
<text x="1068" y="799" font-size="5" class="b">Формат</text>
<text x="1107" y="799" font-size="5" class="b">А1</text>
</svg>
</body></html>
